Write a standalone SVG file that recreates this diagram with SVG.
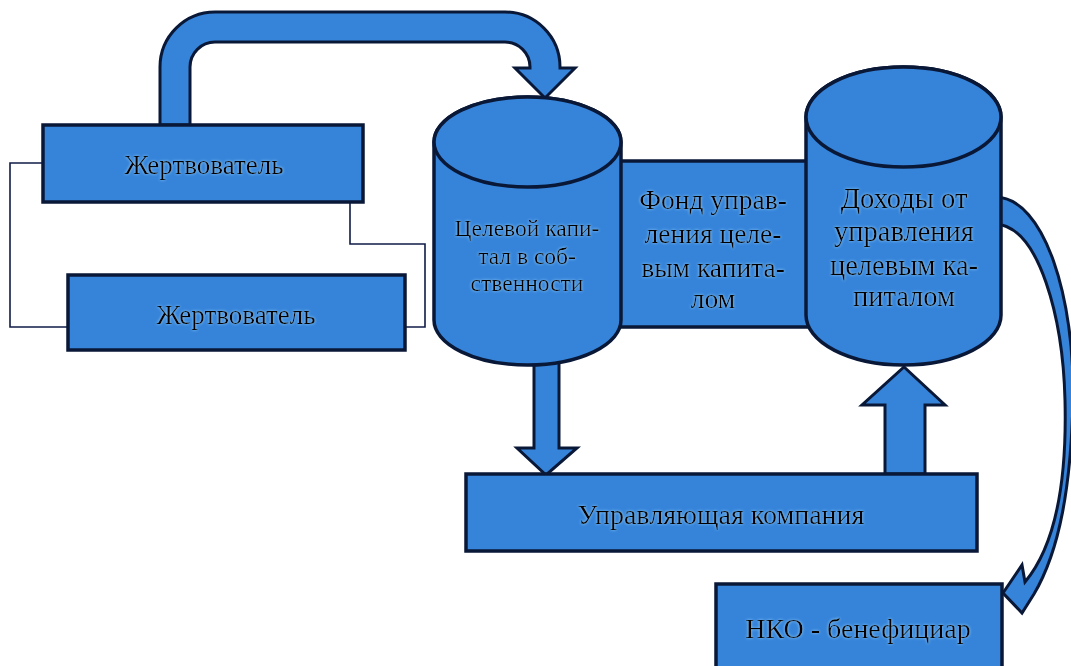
<svg xmlns="http://www.w3.org/2000/svg" width="1071" height="666" viewBox="0 0 1071 666">
<defs>
<filter id="glow" x="-10%" y="-30%" width="120%" height="160%">
<feGaussianBlur in="SourceAlpha" stdDeviation="1.8" result="b"/>
<feFlood flood-color="#a8dcff" flood-opacity="0.85"/>
<feComposite in2="b" operator="in" result="g"/>
<feMerge><feMergeNode in="g"/><feMergeNode in="SourceGraphic"/></feMerge>
</filter>
</defs>
<style>
.sh{fill:#3584da;stroke:#0a1838;stroke-width:3.5;stroke-linejoin:miter}
.ar{fill:#3584da;stroke:#0a1838;stroke-width:3;stroke-linejoin:miter}
.ln{fill:none;stroke:#101c48;stroke-width:1.6}
.t{font-family:"Liberation Serif","Times New Roman",serif;fill:#000;text-anchor:middle;filter:url(#glow)}
</style>
<rect width="1071" height="666" fill="#fff"/>
<g id="connectors">
<path class="ar" d="M160,125 L160,67 A55,55 0 0 1 215,12 L505,12 A55,55 0 0 1 560,67 L560,68 L575,68 L545,98 L515,68 L530,68 L530,67 A25,25 0 0 0 505,42 L215,42 A25,25 0 0 0 190,67 L190,125 Z"/>
<path class="ar" d="M534,350 L559,350 L559,448 L577,448 L546,475 L517,448 L534,448 Z"/>
<path class="ar" d="M885,474 L885,405 L862,405 L904,367 L945,405 L925,405 L925,474 Z"/>
<path class="ar" stroke-width="2.5" d="M995,197 C1045,197 1075,300 1073,400 C1071,485 1060,550 1034,594 L1022,613 L1003,593 L1022,565 L1025,582 C1056,545 1067,480 1065,400 C1063,320 1040,226 995,224 Z"/>
<path class="ln" d="M43,163 L10,163 L10,327 L68,327"/>
<path class="ln" d="M350,163 L350,244 L425,244 L425,327 L360,327"/>
</g>
<g id="donor1">
<rect class="sh" x="43" y="125" width="320" height="77"/>
<text class="t" x="204" y="174" font-size="27">Жертвователь</text>
</g>
<g id="donor2">
<rect class="sh" x="68" y="275" width="337" height="75"/>
<text class="t" x="236" y="324" font-size="27">Жертвователь</text>
</g>
<g id="fund">
<rect class="sh" x="612" y="161" width="204" height="166"/>
<text class="t" font-size="27.5"><tspan x="713" y="209">Фонд управ-</tspan><tspan x="713" y="243">ления целе-</tspan><tspan x="713" y="277">вым капита-</tspan><tspan x="713" y="308">лом</tspan></text>
</g>
<g id="capital">
<path class="sh" d="M434,142 L434,320 A93.5,45 0 0 0 621,320 L621,142 A93.5,45 0 0 0 434,142 Z"/>
<ellipse class="sh" cx="527.5" cy="142" rx="93.5" ry="45"/>
<text class="t" font-size="23.5"><tspan x="527" y="236">Целевой капи-</tspan><tspan x="527" y="264">тал в соб-</tspan><tspan x="527" y="291">ственности</tspan></text>
</g>
<g id="income">
<path class="sh" d="M806,117 L806,315 A97.5,50 0 0 0 1001,315 L1001,117 A97.5,50 0 0 0 806,117 Z"/>
<ellipse class="sh" cx="903.5" cy="117" rx="97.5" ry="50"/>
<text class="t" font-size="28.5"><tspan x="904" y="208">Доходы от</tspan><tspan x="904" y="241">управления</tspan><tspan x="904" y="275">целевым ка-</tspan><tspan x="904" y="306">питалом</tspan></text>
</g>
<g id="company">
<rect class="sh" x="466" y="474" width="511" height="77"/>
<text class="t" x="721" y="524" font-size="28">Управляющая компания</text>
</g>
<g id="nko">
<rect class="sh" x="716" y="584" width="286" height="95"/>
<text class="t" x="858" y="638" font-size="28">НКО - бенефициар</text>
</g>
</svg>
